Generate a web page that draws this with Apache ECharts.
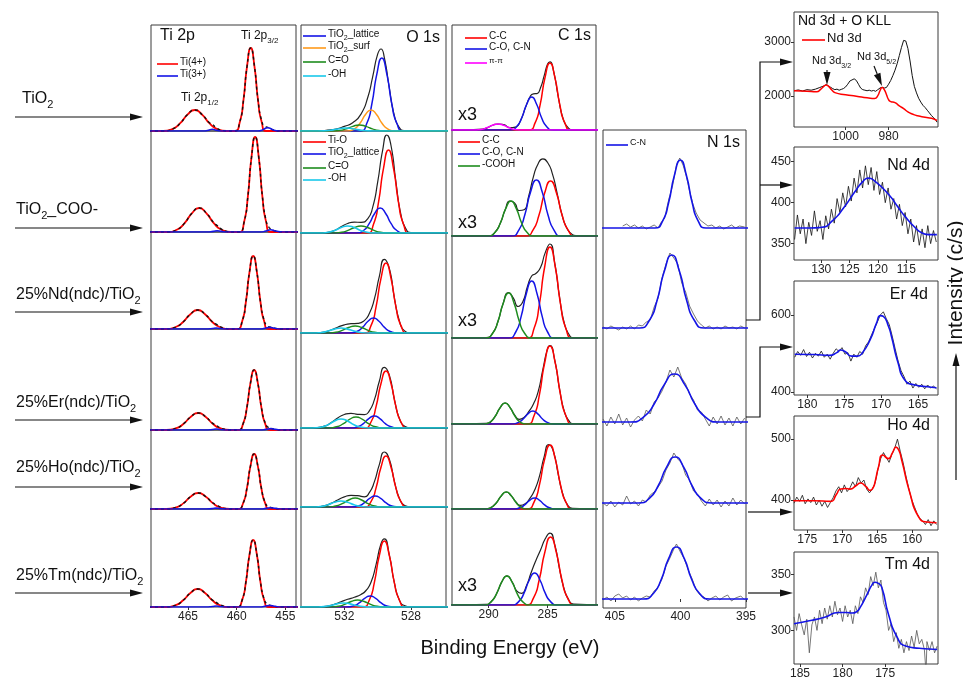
<!DOCTYPE html>
<html>
<head>
<meta charset="utf-8">
<script src="https://cdn.jsdelivr.net/npm/echarts@6/dist/echarts.min.js"></script>
<style>html,body{margin:0;background:#fff}#app{width:963px;height:680px}</style>
</head>
<body>
<div id="app"></div>
<script>
// ---- sample names and axis ticks ----
var samples = ['{m|TiO}{s|2}', '{m|TiO}{s|2}{m|_COO-}', '{m|25%Nd(ndc)/TiO}{s|2}', '{m|25%Er(ndc)/TiO}{s|2}', '{m|25%Ho(ndc)/TiO}{s|2}', '{m|25%Tm(ndc)/TiO}{s|2}'];
var tiTicks = [465, 460, 455];
var oTicks = [532, 528];
var cTicks = [290, 285];
var nTicks = [405, 400, 395];
var nd3dXTicks = [1000, 980], nd3dYTicks = [3000, 2000];
var nd4dXTicks = [130, 125, 120, 115], nd4dYTicks = [450, 400, 350];
var erXTicks = [180, 175, 170, 165], erYTicks = [600, 400];
var hoXTicks = [175, 170, 165, 160], hoYTicks = [500, 400];
var tmXTicks = [185, 180, 175], tmYTicks = [350, 300];

// ---- Ti 2p (binding energy, intensity a.u.) one list per sample ----
var tiTi4 = [
  [[469,0],[467.55,0],[466.55,2.2],[465.8,7.8],[465.05,16.4],[464.3,21],[463.55,16.4],[462.8,7.8],[462.05,2.2],[461.05,0],[460.18,0],[459.68,8.8],[459.3,30.7],[458.93,64.7],[458.55,83],[458.17,64.7],[457.8,30.7],[457.42,8.8],[456.92,0],[453.5,0]],
  [[469,0],[467.1,0],[466.1,2.5],[465.35,8.9],[464.6,18.7],[463.85,24],[463.1,18.7],[462.35,8.9],[461.6,2.5],[460.6,0],[459.73,0],[459.23,10.1],[458.85,35.2],[458.48,74.1],[458.1,95],[457.72,74.1],[457.35,35.2],[456.97,10.1],[456.47,0],[453.5,0]],
  [[469,0],[467.25,0],[466.25,2],[465.5,7],[464.75,14.8],[464,19],[463.25,14.8],[462.5,7],[461.75,2],[460.75,0],[459.93,0],[459.43,7.7],[459.05,27],[458.68,56.9],[458.3,73],[457.92,56.9],[457.55,27],[457.17,7.7],[456.67,0],[453.5,0]],
  [[469,0],[467.2,0],[466.2,1.8],[465.45,6.3],[464.7,13.3],[463.95,17],[463.2,13.3],[462.45,6.3],[461.7,1.8],[460.7,0],[459.83,0],[459.33,6.4],[458.95,22.2],[458.58,46.8],[458.2,60],[457.82,46.8],[457.45,22.2],[457.07,6.4],[456.57,0],[453.5,0]],
  [[469,0],[467.2,0],[466.2,1.7],[465.45,5.9],[464.7,12.5],[463.95,16],[463.2,12.5],[462.45,5.9],[461.7,1.7],[460.7,0],[459.83,0],[459.33,5.8],[458.95,20.4],[458.58,42.9],[458.2,55],[457.82,42.9],[457.45,20.4],[457.07,5.8],[456.57,0],[453.5,0]],
  [[469,0],[467.25,0],[466.25,1.9],[465.5,6.7],[464.75,14],[464,18],[463.25,14],[462.5,6.7],[461.75,1.9],[460.75,0],[459.93,0],[459.43,7.1],[459.05,24.8],[458.68,52.3],[458.3,67],[457.92,52.3],[457.55,24.8],[457.17,7.1],[456.67,0],[453.5,0]]
];
var tiTi3 = [
  [[469,0],[463.4,0],[462.9,0.8],[462.5,1.8],[462.1,0.8],[461.5,0],[457.8,0],[457.3,1.3],[456.8,3.3],[456.3,1.3],[455.7,0],[453.5,0]],
  [[469,0],[463,0],[462.4,0.6],[462,1.2],[461.6,0.6],[461,0],[457.5,0],[457,1],[456.5,2.3],[456,1],[455.3,0],[453.5,0]],
  [[469,0],[463.1,0],[462.5,0.5],[462.1,1],[461.7,0.5],[461.1,0],[457.6,0],[457.1,0.7],[456.6,1.6],[456.1,0.7],[455.4,0],[453.5,0]],
  [[469,0],[463.1,0],[462.5,0.5],[462.1,1],[461.7,0.5],[461.1,0],[457.5,0],[457,0.6],[456.5,1.4],[456,0.6],[455.3,0],[453.5,0]],
  [[469,0],[463.1,0],[462.5,0.4],[462.1,0.9],[461.7,0.4],[461.1,0],[457.5,0],[457,0.6],[456.5,1.3],[456,0.6],[455.3,0],[453.5,0]],
  [[469,0],[463.1,0],[462.5,0.5],[462.1,1],[461.7,0.5],[461.1,0],[457.6,0],[457.1,0.7],[456.6,1.5],[456.1,0.7],[455.4,0],[453.5,0]]
];
var tiFit = [
  [[469,0],[467.55,0],[466.55,2.2],[465.8,7.8],[465.05,16.4],[464.3,21],[463.55,16.4],[462.8,8.2],[462.5,6.8],[462.05,2.8],[461.5,0.7],[461.05,0],[460.18,0],[459.68,8.8],[459.3,30.7],[458.93,64.7],[458.55,83],[458.17,64.7],[457.8,30.7],[457.42,9.9],[457.1,4.6],[456.8,3.6],[456.3,1.3],[455.7,0],[453.5,0]],
  [[469,0],[467.1,0],[466.1,2.5],[465.35,8.9],[464.6,18.7],[463.85,24],[463.1,18.7],[462.35,9.3],[462,6.5],[461.6,3.1],[461,0.6],[460.6,0],[459.73,0],[459.23,10.1],[458.85,35.2],[458.48,74.1],[458.1,95],[457.72,74.1],[457.35,35.2],[456.97,11.3],[456.7,5],[456.5,3.3],[456,1],[455.3,0],[453.5,0]],
  [[469,0],[467.25,0],[466.25,2],[465.5,7],[464.75,14.8],[464,19],[463.25,14.8],[462.5,7.3],[462.1,4.8],[461.75,2.6],[461.2,0.7],[460.75,0],[459.93,0],[459.43,7.7],[459.05,27],[458.68,56.9],[458.3,73],[457.92,56.9],[457.55,27],[457.17,8.4],[456.9,3.5],[456.6,2],[456.1,0.7],[455.4,0],[453.5,0]],
  [[469,0],[467.2,0],[466.2,1.8],[465.45,6.3],[464.7,13.3],[463.95,17],[463.2,13.3],[462.45,6.6],[462.1,4.7],[461.7,2.3],[461.2,0.6],[460.7,0],[459.83,0],[459.33,6.4],[458.95,22.2],[458.58,46.8],[458.2,60],[457.82,46.8],[457.45,22.2],[457.07,7],[456.8,3],[456.5,1.8],[456,0.6],[455.3,0],[453.5,0]],
  [[469,0],[467.2,0],[466.2,1.7],[465.45,5.9],[464.7,12.5],[463.95,16],[463.2,12.5],[462.45,6.2],[462.1,4.4],[461.7,2.1],[461.2,0.5],[460.7,0],[459.83,0],[459.33,5.8],[458.95,20.4],[458.58,42.9],[458.2,55],[457.82,42.9],[457.45,20.4],[457.07,6.4],[456.8,2.8],[456.5,1.6],[456,0.6],[455.3,0],[453.5,0]],
  [[469,0],[467.25,0],[466.25,1.9],[465.5,6.7],[464.75,14],[464,18],[463.25,14],[462.5,7],[462.1,4.6],[461.75,2.5],[461.2,0.6],[460.75,0],[459.93,0],[459.43,7.1],[459.05,24.8],[458.68,52.3],[458.3,67],[457.92,52.3],[457.55,24.8],[457.17,7.8],[456.9,3.3],[456.6,1.9],[456.1,0.7],[455.4,0],[453.5,0]]
];

// ---- O 1s ----
var oMain = [
  [[534.8,0],[531.05,0],[530.65,7.7],[530.35,27],[530.05,56.9],[529.75,73],[529.45,56.9],[529.15,27],[528.85,7.7],[528.45,0],[525.7,0]],
  [[534.8,0],[530.65,0],[530.25,8.8],[529.95,30.7],[529.65,64.7],[529.35,83],[529.05,64.7],[528.75,30.7],[528.45,8.8],[528.05,0],[525.7,0]],
  [[534.8,0],[530.8,0],[530.4,7.4],[530.1,25.9],[529.8,54.6],[529.5,70],[529.2,54.6],[528.9,25.9],[528.6,7.4],[528.2,0],[525.7,0]],
  [[534.8,0],[530.8,0],[530.4,6],[530.1,21.1],[529.8,44.5],[529.5,57],[529.2,44.5],[528.9,21.1],[528.6,6],[528.2,0],[525.7,0]],
  [[534.8,0],[530.8,0],[530.4,5.4],[530.1,18.9],[529.8,39.8],[529.5,51],[529.2,39.8],[528.9,18.9],[528.6,5.4],[528.2,0],[525.7,0]],
  [[534.8,0],[530.9,0],[530.5,7],[530.2,24.4],[529.9,51.5],[529.6,66],[529.3,51.5],[529,24.4],[528.7,7],[528.3,0],[525.7,0]]
];
var oSecond = [
  [[534.8,0],[531.83,0],[531.4,2.1],[531.06,7.8],[530.73,16.4],[530.4,21],[530.07,16.4],[529.74,7.8],[529.4,2.1],[528.97,0],[525.7,0]],
  [[534.8,0],[531.28,0],[530.85,2.5],[530.51,9.3],[530.18,19.5],[529.85,25],[529.52,19.5],[529.19,9.3],[528.85,2.5],[528.42,0],[525.7,0]],
  [[534.8,0],[531.68,0],[531.25,1.5],[530.91,5.6],[530.58,11.7],[530.25,15],[529.92,11.7],[529.59,5.6],[529.25,1.5],[528.82,0],[525.7,0]],
  [[534.8,0],[531.63,0],[531.2,1.2],[530.86,4.4],[530.53,9.4],[530.2,12],[529.87,9.4],[529.54,4.4],[529.2,1.2],[528.77,0],[525.7,0]],
  [[534.8,0],[531.58,0],[531.15,1.1],[530.81,4.1],[530.48,8.6],[530.15,11],[529.82,8.6],[529.49,4.1],[529.15,1.1],[528.72,0],[525.7,0]],
  [[534.8,0],[531.88,0],[531.45,1.1],[531.11,4.1],[530.78,8.6],[530.45,11],[530.12,8.6],[529.79,4.1],[529.45,1.1],[529.02,0],[525.7,0]]
];
var oCO = [
  [[534.8,0],[532.8,0],[532.27,0.6],[531.88,2.2],[531.49,4.7],[531.1,6],[530.71,4.7],[530.32,2.2],[529.93,0.6],[529.4,0],[525.7,0]],
  [[534.8,0],[532.7,0],[532.17,0.7],[531.78,2.6],[531.39,5.5],[531,7],[530.61,5.5],[530.22,2.6],[529.83,0.7],[529.3,0],[525.7,0]],
  [[534.8,0],[533.05,0],[532.52,0.7],[532.13,2.6],[531.74,5.5],[531.35,7],[530.96,5.5],[530.57,2.6],[530.18,0.7],[529.65,0],[525.7,0]],
  [[534.8,0],[533,0],[532.47,1.2],[532.08,4.1],[531.69,8.6],[531.3,11],[530.91,8.6],[530.52,4.1],[530.13,1.2],[529.6,0],[525.7,0]],
  [[534.8,0],[533.05,0],[532.52,1],[532.13,3.3],[531.74,7],[531.35,9],[530.96,7],[530.57,3.3],[530.18,1],[529.65,0],[525.7,0]],
  [[534.8,0],[532.9,0],[532.37,0.7],[531.98,2.6],[531.59,5.5],[531.2,7],[530.81,5.5],[530.42,2.6],[530.03,0.7],[529.5,0],[525.7,0]]
];
var oOH = [
  [[534.8,0],[533.6,0],[533.07,0.3],[532.68,1.1],[532.29,2.3],[531.9,3],[531.51,2.3],[531.12,1.1],[530.73,0.3],[530.2,0],[525.7,0]],
  [[534.8,0],[533.5,0],[532.97,0.7],[532.58,2.6],[532.19,5.5],[531.8,7],[531.41,5.5],[531.02,2.6],[530.63,0.7],[530.1,0],[525.7,0]],
  [[534.8,0],[533.9,0],[533.37,0.5],[532.98,1.9],[532.59,3.9],[532.2,5],[531.81,3.9],[531.42,1.9],[531.03,0.5],[530.5,0],[525.7,0]],
  [[534.8,0],[533.9,0],[533.37,1],[532.98,3.3],[532.59,7],[532.2,9],[531.81,7],[531.42,3.3],[531.03,1],[530.5,0],[525.7,0]],
  [[534.8,0],[533.9,0],[533.37,0.6],[532.98,2.2],[532.59,4.7],[532.2,6],[531.81,4.7],[531.42,2.2],[531.03,0.6],[530.5,0],[525.7,0]],
  [[534.8,0],[533.75,0],[533.22,0.4],[532.83,1.5],[532.44,3.1],[532.05,4],[531.66,3.1],[531.27,1.5],[530.88,0.4],[530.35,0],[525.7,0]]
];
var oFit = [
  [[534.8,0],[533.5,0.2],[533,0.8],[532.5,1.9],[532,4.6],[531.5,8.2],[531,16.9],[530.6,33.3],[530.3,54.1],[530,76.8],[529.8,82],[529.6,73.4],[529.3,43],[529,15.5],[528.7,3.4],[528.4,0.4],[528,0],[525.7,0]],
  [[534.8,0],[533.5,0],[533,0.6],[532.5,3.3],[532.2,6.1],[531.8,9.5],[531.4,10.8],[531,10.7],[530.6,14.2],[530.3,25.6],[530,50.8],[529.7,82.9],[529.45,98],[529.2,87.5],[528.9,50.5],[528.6,18],[528.3,4],[528,0.5],[525.7,0]],
  [[534.8,0],[533.9,0],[533.2,1],[532.8,3],[532.4,5.8],[532,8.2],[531.6,9.3],[531.2,9.6],[530.8,12.4],[530.5,19.5],[530.2,33.8],[529.9,56.6],[529.6,73.7],[529.3,64.6],[529,35.3],[528.7,12.4],[528.4,2.4],[528,0.2],[525.7,0]],
  [[534.8,0],[533.9,0],[533.2,1.8],[532.8,5.3],[532.4,10],[532,13.5],[531.6,14.7],[531.2,13.7],[530.8,13.4],[530.5,17.2],[530.2,28.1],[529.9,46.8],[529.6,60.6],[529.3,52.9],[529,28.8],[528.7,9.7],[528.4,2],[528,0.2],[525.7,0]],
  [[534.8,0],[533.9,0],[533.2,1.2],[532.8,3.6],[532.4,7],[532,10.1],[531.6,11.6],[531.2,11.3],[530.8,10.2],[530.5,14.3],[530.2,25.1],[529.9,42.4],[529.6,55],[529.3,47.7],[529,25.9],[528.7,8.7],[528.4,1.8],[528,0.2],[525.7,0]],
  [[534.8,0],[533.75,0],[533,1],[532.6,2.7],[532.2,5.2],[531.8,7.7],[531.4,9.7],[531,12.6],[530.7,16.5],[530.4,24.7],[530.1,42.2],[529.8,63.2],[529.6,68.1],[529.3,51.9],[529,24.4],[528.7,7],[528.4,1.5],[528,0],[525.7,0]]
];

// ---- C 1s ----
var cCC = [
  [[293.3,0],[286.6,0],[286.06,7.1],[285.64,24.8],[285.22,52.3],[284.8,67],[284.38,52.3],[283.96,24.8],[283.54,7.1],[283,0],[280.7,0]],
  [[293.3,0],[286.85,0],[286.24,5.8],[285.74,20.4],[285.25,42.9],[284.75,55],[284.25,42.9],[283.76,20.4],[283.26,5.8],[282.65,0],[280.7,0]],
  [[293.3,0],[286.75,0],[286.15,9.6],[285.7,33.7],[285.25,71],[284.8,91],[284.35,71],[283.9,33.7],[283.45,9.6],[282.85,0],[280.7,0]],
  [[293.3,0],[286.75,0],[286.15,8.3],[285.7,28.9],[285.25,60.8],[284.8,78],[284.35,60.8],[283.9,28.9],[283.45,8.3],[282.85,0],[280.7,0]],
  [[293.3,0],[286.75,0],[286.15,6.8],[285.7,23.7],[285.25,49.9],[284.8,64],[284.35,49.9],[283.9,23.7],[283.45,6.8],[282.85,0],[280.7,0]],
  [[293.3,0],[286.83,0],[286.19,7.2],[285.71,25.2],[285.23,53],[284.75,68],[284.27,53],[283.79,25.2],[283.31,7.2],[282.67,0],[280.7,0]]
];
var cCO = [
  [[293.3,0],[288.15,0],[287.61,3.5],[287.19,12.2],[286.77,25.7],[286.35,33],[285.93,25.7],[285.51,12.2],[285.09,3.5],[284.55,0],[280.7,0]],
  [[293.3,0],[288.05,0],[287.44,5.9],[286.94,20.7],[286.45,43.7],[285.95,56],[285.45,43.7],[284.96,20.7],[284.46,5.9],[283.85,0],[280.7,0]],
  [[293.3,0],[288.3,0],[287.7,6],[287.25,21.1],[286.8,44.5],[286.35,57],[285.9,44.5],[285.45,21.1],[285,6],[284.4,0],[280.7,0]],
  [[293.3,0],[288.05,0],[287.51,1.4],[287.09,4.8],[286.67,10.1],[286.25,13],[285.83,10.1],[285.41,4.8],[284.99,1.4],[284.45,0],[280.7,0]],
  [[293.3,0],[287.9,0],[287.36,1.2],[286.94,4.1],[286.52,8.6],[286.1,11],[285.68,8.6],[285.26,4.1],[284.84,1.2],[284.3,0],[280.7,0]],
  [[293.3,0],[288.05,0],[287.45,3.4],[287,11.8],[286.55,25],[286.1,32],[285.65,25],[285.2,11.8],[284.75,3.4],[284.15,0],[280.7,0]]
];
var cThird = [
  [[293.3,0],[291.28,0],[290.64,0.6],[290.16,2.2],[289.68,4.7],[289.2,6],[288.72,4.7],[288.24,2.2],[287.76,0.6],[287.12,0],[280.7,0]],
  [[293.3,0],[290.05,0],[289.45,3.7],[289,13],[288.55,27.3],[288.1,35],[287.65,27.3],[287.2,13],[286.75,3.7],[286.15,0],[280.7,0]],
  [[293.3,0],[290.25,0],[289.65,4.8],[289.2,16.7],[288.75,35.1],[288.3,45],[287.85,35.1],[287.4,16.7],[286.95,4.8],[286.35,0],[280.7,0]],
  [[293.3,0],[290.4,0],[289.86,2.2],[289.44,7.8],[289.02,16.4],[288.6,21],[288.18,16.4],[287.76,7.8],[287.34,2.2],[286.8,0],[280.7,0]],
  [[293.3,0],[290.3,0],[289.76,1.8],[289.34,6.3],[288.92,13.3],[288.5,17],[288.08,13.3],[287.66,6.3],[287.24,1.8],[286.7,0],[280.7,0]],
  [[293.3,0],[290.4,0],[289.8,3.1],[289.35,10.7],[288.9,22.6],[288.45,29],[288,22.6],[287.55,10.7],[287.1,3.1],[286.5,0],[280.7,0]]
];
var cFit = [
  [[293.3,0],[290.5,1],[289.6,5],[289.2,6],[288.7,5.3],[288.2,2.3],[287.7,3],[287.3,9.3],[286.9,21.6],[286.5,33],[286.2,36.2],[285.9,36.4],[285.6,42.3],[285.3,53.8],[285,65.9],[284.8,68.1],[284.5,59.2],[284.1,33.5],[283.7,11.8],[283.3,2.8],[282.8,0.1],[280.7,0]],
  [[293.3,0],[290,0.4],[289.5,3.2],[289,13],[288.6,25.9],[288.2,35],[287.8,33],[287.4,25.5],[287,26.2],[286.6,40.2],[286.2,59.4],[285.8,72.3],[285.4,77.1],[285,73.5],[284.6,62.4],[284.2,43.2],[283.8,22],[283.4,8.5],[283,2.4],[282.6,0.4],[280.7,0]],
  [[293.3,0],[290.2,0.5],[289.7,4.1],[289.2,16.7],[288.8,33.4],[288.3,45.5],[287.9,39.9],[287.5,31.5],[287.1,36.2],[286.7,51.8],[286.35,62],[286,64.5],[285.6,70.4],[285.2,85.4],[284.8,94],[284.4,75.1],[284,41.9],[283.6,15.5],[283.2,3.8],[282.8,0.4],[280.7,0]],
  [[293.3,0],[290.2,0.6],[289.6,5.2],[289,16.6],[288.6,21],[288.2,16.7],[287.8,9.1],[287.4,4.7],[287,6.6],[286.6,12.3],[286.2,20],[285.8,32.4],[285.4,54.7],[285,75.4],[284.8,78.3],[284.4,64],[284,35.9],[283.6,13.3],[283.2,3.3],[282.8,0.3],[280.7,0]],
  [[293.3,0],[290.1,0.5],[289.5,4.2],[288.9,13.4],[288.5,17],[288.1,13.4],[287.7,7.3],[287.3,3.6],[286.9,5.2],[286.5,10.6],[286.1,18.9],[285.7,32.3],[285.3,51.8],[284.9,64.5],[284.5,57.3],[284.1,34.6],[283.7,14.5],[283.3,4],[282.9,0.6],[280.7,0]],
  [[293.3,0],[290.2,0.6],[289.7,4.3],[289.2,14.5],[288.8,25],[288.45,29.1],[288,23],[287.6,13.9],[287.2,11.7],[286.8,19],[286.4,32.2],[286,44.3],[285.6,55],[285.2,66.2],[284.8,71.9],[284.4,60.5],[284,36.7],[283.6,16.1],[283.2,5],[282.8,0.8],[280.7,0]]
];

// ---- N 1s (samples 2..6) ----
var nFit = [
  [[406,0],[401.95,0],[401.35,7.2],[400.9,25.2],[400.45,53],[400,68],[399.55,53],[399.1,25.2],[398.65,7.2],[398.05,0],[394.8,0]],
  [[406,0],[403.12,0],[402.36,7.7],[401.79,27],[401.22,56.9],[400.65,73],[400.08,56.9],[399.51,27],[398.94,7.7],[398.18,0],[394.8,0]],
  [[406,0],[403.83,0],[402.79,5.1],[402.01,17.8],[401.23,37.4],[400.45,48],[399.67,37.4],[398.89,17.8],[398.11,5.1],[397.07,0],[394.8,0]],
  [[406,0],[403.2,0],[402.35,4.9],[401.7,17],[401.05,35.9],[400.4,46],[399.75,35.9],[399.1,17],[398.45,4.9],[397.6,0],[394.8,0]],
  [[406,0],[402.84,0],[402.06,5.5],[401.47,19.2],[400.89,40.6],[400.3,52],[399.71,40.6],[399.13,19.2],[398.54,5.5],[397.76,0],[394.8,0]]
];
var nData = [
  [[404.4,2],[404.1,4],[403.8,1],[403.5,3],[403.2,0],[402.9,2],[402.6,-1],[402.3,1],[402,3],[401.7,0],[401.5,5],[401.2,10],[400.9,28],[400.6,42],[400.3,63],[400.05,70],[399.8,63],[399.55,52],[399.3,37],[399.05,24],[398.8,15],[398.5,8],[398.2,5],[397.9,2],[397.6,3],[397.3,0],[397,2],[396.7,-1],[396.4,1],[396.1,3],[395.8,0],[395.5,2],[395.1,1]],
  [[405.9,1],[405.6,-1],[405.3,2],[405,0],[404.7,-2],[404.4,1],[404.1,-1],[403.8,2],[403.5,-1],[403.2,3],[402.9,2],[402.6,6],[402.3,8],[402,21],[401.7,30],[401.4,50],[401.1,64],[400.8,75],[400.5,70],[400.2,64],[399.9,45],[399.6,36],[399.3,22],[399,14],[398.7,7],[398.4,3],[398.1,0],[397.8,2],[397.5,-1],[397.2,1],[396.9,-1],[396.6,2],[396.3,0],[396,1],[395.7,-1],[395.4,2],[395.1,0]],
  [[405.9,3],[405.6,-4],[405.3,5],[405,-2],[404.7,8],[404.4,-3],[404.1,4],[403.8,-5],[403.5,2],[403.2,6],[402.9,1],[402.6,12],[402.3,8],[402,20],[401.7,24],[401.4,31],[401.1,40],[400.8,52],[400.5,45],[400.2,55],[399.9,44],[399.6,38],[399.3,28],[399,22],[398.7,12],[398.4,10],[398.1,3],[397.8,-4],[397.5,5],[397.2,-2],[396.9,6],[396.6,-3],[396.3,4],[396,-4],[395.7,5],[395.4,-2],[395.1,4]],
  [[405.9,0],[405.6,-3],[405.3,2],[405,-4],[404.7,1],[404.4,-2],[404.1,7],[403.8,-1],[403.5,2],[403.2,-3],[402.9,3],[402.6,1],[402.3,8],[402,11],[401.7,16],[401.4,22],[401.1,33],[400.8,40],[400.5,50],[400.2,44],[399.9,40],[399.6,28],[399.3,23],[399,12],[398.7,9],[398.4,2],[398.1,-3],[397.8,4],[397.5,-2],[397.2,3],[396.9,-4],[396.6,2],[396.3,-3],[396,5],[395.7,-2],[395.4,3],[395.1,-1]],
  [[405.9,-1],[405.6,2],[405.3,-2],[405,3],[404.7,5],[404.4,1],[404.1,3],[403.8,-1],[403.5,2],[403.2,-2],[402.9,1],[402.6,3],[402.3,2],[402,8],[401.7,12],[401.4,20],[401.1,33],[400.8,41],[400.5,50],[400.3,55],[400,47],[399.7,40],[399.4,29],[399.1,20],[398.8,9],[398.5,4],[398.2,2],[397.9,-2],[397.6,1],[397.3,3],[397,-1],[396.7,2],[396.4,4],[396.1,-2],[395.8,1],[395.4,3],[395.1,-1]]
];

// ---- rare-earth panels (binding energy, c/s) ----
var nd3dData = [[1024,2100],[1022,2115],[1020,2095],[1018,2120],[1016,2110],[1014,2130],[1012,2160],[1010,2190],[1009,2215],[1008,2185],[1007,2165],[1006,2140],[1005,2120],[1004,2130],[1003,2110],[1002,2125],[1001,2140],[1000,2170],[999,2220],[998,2280],[997,2300],[996,2320],[995,2290],[994,2220],[993,2150],[992,2120],[991,2110],[990,2100],[989,2110],[988,2095],[987,2105],[986,2090],[985,2120],[984,2150],[983,2165],[982,2150],[981,2160],[980,2220],[979,2290],[978,2380],[977,2480],[976,2600],[975,2750],[974,2900],[973,3030],[972.5,3060],[972,3020],[971,2880],[970,2650],[969,2380],[968,2180],[967,2060],[966,1960],[965,1890],[964,1830],[963,1790],[962,1740],[961,1690],[960,1640],[959,1600],[958,1560],[957.5,1520]];
var nd3dFit = [[1024,2100],[1018,2090],[1013.5,2082],[1011.5,2130],[1010,2185],[1009,2205],[1008,2185],[1006.5,2120],[1005,2065],[1000,2025],[995,2000],[990,1970],[986.5,1955],[985,2010],[984,2100],[983,2160],[982,2120],[981,2030],[980,1935],[979,1900],[977,1880],[975,1820],[973,1770],[971,1710],[969,1670],[966.5,1636],[963,1610],[960,1590],[957.5,1550]];
var nd4dData = [[134.7,355],[134.2,385],[133.7,362],[133.2,380],[132.7,350],[132.2,376],[131.7,360],[131.2,390],[130.7,365],[130.2,378],[129.7,355],[129.2,384],[128.7,368],[128.2,392],[127.7,375],[127.2,405],[126.7,388],[126.2,412],[125.7,395],[125.2,420],[124.7,402],[124.2,430],[123.7,412],[123.2,440],[122.7,418],[122.2,445],[121.7,422],[121.2,443],[120.7,415],[120.2,438],[119.7,410],[119.2,425],[118.7,400],[118.2,418],[117.7,392],[117.2,405],[116.7,380],[116.2,398],[115.7,372],[115.2,388],[114.7,362],[114.2,380],[113.7,352],[113.2,372],[112.7,348],[112.2,368],[111.7,345],[111.2,372],[110.7,350],[110.2,366],[109.7,352]];
var nd4dFit = [[134.7,369],[132,369],[129.9,370],[128,378],[126,394],[124,414],[122.5,427],[121.7,430],[120.5,426],[118.1,410],[116.5,395],[115.2,383],[113.5,370],[112.2,363],[111,361],[109.6,361]];
var er4dData = [[181.7,490],[181.3,505],[180.9,495],[180.5,510],[180.1,492],[179.7,503],[179.3,488],[178.9,500],[178.5,493],[178.1,506],[177.7,490],[177.3,498],[176.9,485],[176.5,500],[176.1,512],[175.7,505],[175.3,515],[174.9,498],[174.5,502],[174.1,480],[173.7,498],[173.3,490],[172.9,505],[172.5,498],[172.1,520],[171.7,530],[171.3,548],[170.9,565],[170.5,582],[170.1,600],[169.7,608],[169.3,590],[168.9,575],[168.5,545],[168.1,512],[167.7,480],[167.3,455],[166.9,440],[166.5,420],[166.1,428],[165.7,410],[165.3,422],[164.9,412],[164.5,420],[164.1,408],[163.7,418],[163.3,410],[162.9,415],[162.5,408]];
var er4dFit = [[181.7,498],[179,497],[177,495],[176,502],[175.5,509],[174.9,505],[174,493],[173.2,493],[172.6,500],[171.5,535],[170.6,580],[170.1,598],[169.7,596],[169,570],[168.6,544],[167.7,475],[166.8,431],[165.4,418],[164,414],[162.5,411]];
var ho4dData = [[176.9,395],[176.5,405],[176.1,398],[175.7,408],[175.3,394],[174.9,402],[174.5,396],[174.1,405],[173.7,392],[173.3,400],[172.9,390],[172.5,398],[172.1,388],[171.7,396],[171.3,404],[170.9,415],[170.5,422],[170.1,412],[169.7,425],[169.3,414],[168.9,420],[168.5,430],[168.1,422],[167.7,437],[167.3,428],[166.9,433],[166.5,418],[166.1,412],[165.7,418],[165.3,428],[164.9,450],[164.5,468],[164.1,478],[163.7,470],[163.3,462],[162.9,475],[162.5,485],[162.1,500],[161.7,480],[161.3,462],[160.9,440],[160.5,420],[160.1,402],[159.7,390],[159.3,378],[158.9,370],[158.5,366],[158.1,360],[157.7,368],[157.3,358],[156.9,366],[156.5,360]];
var ho4dFit = [[177,399],[174,399],[171.7,398],[170.8,410],[170.3,418],[169.5,419],[168.9,418],[168,424],[167.4,428],[166.6,422],[166,416],[165.6,420],[165.3,430],[164.8,455],[164.2,474],[163.4,468],[162.8,478],[162.3,487],[161.9,482],[161.5,466],[160.3,411],[159.1,373],[157.9,364],[156.5,363]];
var tm4dData = [[185.7,312],[185.4,300],[185.1,315],[184.8,305],[184.5,296],[184.2,310],[183.9,280],[183.6,305],[183.3,312],[183,300],[182.7,318],[182.4,306],[182.1,320],[181.8,310],[181.5,322],[181.2,312],[180.9,326],[180.6,314],[180.3,320],[180,308],[179.7,322],[179.4,312],[179.1,318],[178.8,306],[178.5,322],[178.2,315],[177.9,330],[177.6,325],[177.3,338],[177,332],[176.7,348],[176.4,340],[176.1,352],[175.8,338],[175.5,345],[175.2,325],[174.9,318],[174.6,300],[174.3,306],[174,290],[173.7,298],[173.4,284],[173.1,292],[172.8,280],[172.5,290],[172.2,282],[171.9,295],[171.6,285],[171.3,300],[171,288],[170.7,292],[170.4,283],[170.2,262],[170.1,290],[169.8,282],[169.5,290],[169.2,280],[168.9,286]];
var tm4dFit = [[185.7,306],[183.6,309],[182,312],[180.5,316],[179.5,316],[178.9,315.5],[178.3,317],[177.9,321],[177.4,328],[177,334],[176.6,340],[176.2,343],[175.8,342],[175.4,338.5],[174.6,314],[173.6,294],[172.6,286],[171,284],[168.9,283]];

// ---- build ----
var FONT = 'Arial, "Liberation Sans", sans-serif';
var RED = '#ff0000', BLUE = '#1414e6', GREEN = '#1e8c1e', ORANGE = '#ff9a1a', CYAN = '#19c8ea', MAGENTA = '#ff00ff';
var grids = [], xAxes = [], yAxes = [], series = [], graphics = [];
function plain(v) { return String(v); }

function panel(box, xr, yr, xLab, yLab, border) {
  var i = grids.length;
  grids.push({ left: box[0], top: box[1], width: box[2], height: box[3], show: border !== false,
    borderColor: '#3a3a3a', borderWidth: 1, backgroundColor: 'transparent' });
  xAxes.push({ gridIndex: i, type: 'value', inverse: true, min: xr[0], max: xr[1],
    axisLine: { show: false }, splitLine: { show: false },
    axisTick: { show: !!xLab, length: 3, customValues: xLab || [], lineStyle: { color: '#333' } },
    axisLabel: { show: !!xLab, customValues: xLab || [], formatter: plain, fontSize: 12, color: '#222', margin: 4, fontFamily: FONT } });
  yAxes.push({ gridIndex: i, type: 'value', min: yr[0], max: yr[1],
    axisLine: { show: false }, splitLine: { show: false },
    axisTick: { show: !!yLab, length: 3, customValues: yLab || [], lineStyle: { color: '#333' } },
    axisLabel: { show: !!yLab, customValues: yLab || [], formatter: plain, fontSize: 12, color: '#222', margin: 3, fontFamily: FONT } });
  return i;
}
function curve(i, data, color, width, dash, smooth) {
  series.push({ type: 'line', xAxisIndex: i, yAxisIndex: i, data: data, symbol: 'none',
    smooth: smooth === false ? false : 0.6, silent: true,
    lineStyle: { color: color, width: width, type: dash || 'solid' } });
}
function rich(size) {
  return {
    m: { fontSize: size, fontFamily: FONT, lineHeight: size + 2, padding: [0, 0, 3, 0], verticalAlign: 'bottom' },
    s: { fontSize: Math.round(size * 0.68), fontFamily: FONT, lineHeight: Math.round(size * 0.68), verticalAlign: 'bottom' }
  };
}
function label(x, y, text, size, align) {
  graphics.push({ type: 'text', x: x, y: y, silent: true, z: 50,
    style: { text: text, font: size + 'px ' + FONT, fill: '#111', align: align || 'left', verticalAlign: 'middle', rich: rich(size) } });
}
function legendItem(x1, x2, y, color, text, size) {
  graphics.push({ type: 'line', silent: true, z: 50, shape: { x1: x1, y1: y, x2: x2, y2: y }, style: { stroke: color, lineWidth: 1.6 } });
  label(x2 + 2, y, text, size || 10);
}
function arrow(pts) {
  var n = pts.length, a = pts[n - 2], b = pts[n - 1];
  var dx = b[0] - a[0], dy = b[1] - a[1], L = Math.sqrt(dx * dx + dy * dy), ux = dx / L, uy = dy / L;
  var hl = 13, hw = 3.5, base = [b[0] - ux * hl, b[1] - uy * hl];
  graphics.push({ type: 'polyline', silent: true, z: 50, shape: { points: pts.slice(0, n - 1).concat([base]) }, style: { stroke: '#111', lineWidth: 1.2, fill: null } });
  graphics.push({ type: 'polygon', silent: true, z: 50, shape: { points: [b, [base[0] - uy * hw, base[1] + ux * hw], [base[0] + uy * hw, base[1] - ux * hw]] }, style: { fill: '#111' } });
}

// Ti 2p column
var tiRows = [25, 131, 232, 329, 430, 509, 607];
for (var r = 0; r < 6; r++) {
  var h = tiRows[r + 1] - tiRows[r];
  var g = panel([151, tiRows[r], 145, h], [453.9, 468.8], [0, h], r === 5 ? tiTicks : null, null);
  curve(g, tiTi4[r], RED, 1.8);
  curve(g, tiFit[r], '#111', 1.4, [3, 3]);
  curve(g, tiTi3[r], BLUE, 1.6);
}
// O 1s column
var oRows = [25, 131, 233, 333, 428, 507, 607];
for (r = 0; r < 6; r++) {
  h = oRows[r + 1] - oRows[r];
  g = panel([301, oRows[r], 145, h], [525.9, 534.6], [0, h], r === 5 ? oTicks : null, null);
  curve(g, oFit[r], '#222', 1.2);
  curve(g, oMain[r], r === 0 ? BLUE : RED, 1.5);
  curve(g, oSecond[r], r === 0 ? ORANGE : BLUE, 1.5);
  curve(g, oCO[r], GREEN, 1.4);
  curve(g, oOH[r], CYAN, 1.6);
}
// C 1s column
var cRows = [25, 130, 236, 338, 424, 509, 605];
for (r = 0; r < 6; r++) {
  h = cRows[r + 1] - cRows[r];
  g = panel([452, cRows[r], 144, h], [280.9, 293.1], [0, h], r === 5 ? cTicks : null, null);
  curve(g, cFit[r], '#222', 1.2);
  curve(g, cCC[r], RED, 1.5);
  curve(g, cCO[r], BLUE, 1.5);
  curve(g, cThird[r], r === 0 ? MAGENTA : GREEN, 1.5);
}
// N 1s column (one frame, five stacked traces)
panel([603, 130, 143, 478], [395, 405.9], [0, 1], null, null);
var nBase = [228, 328, 422, 503, 599];
for (r = 0; r < 5; r++) {
  g = panel([603, nBase[r] - 85, 143, 93], [395, 405.9], [-8, 85], r === 4 ? nTicks : null, null, false);
  curve(g, nData[r], '#555', 0.8, null, false);
  curve(g, nFit[r], BLUE, 1.6);
}
// rare-earth panels
g = panel([794, 12, 144, 115], [957, 1024], [1430, 3555], nd3dXTicks, nd3dYTicks);
curve(g, nd3dData, '#111', 1, null, false);
curve(g, nd3dFit, RED, 1.5);
g = panel([794, 147, 144, 113], [109.4, 134.8], [330, 468], nd4dXTicks, nd4dYTicks);
curve(g, nd4dData, '#111', 0.8, null, false);
curve(g, nd4dFit, BLUE, 1.6);
g = panel([794, 281, 144, 114], [162.3, 181.8], [392, 688], erXTicks, erYTicks);
curve(g, er4dData, '#111', 0.8, null, false);
curve(g, er4dFit, BLUE, 1.6);
g = panel([794, 416, 144, 114], [156.3, 176.9], [351, 538], hoXTicks, hoYTicks);
curve(g, ho4dData, '#111', 0.8, null, false);
curve(g, ho4dFit, RED, 1.6);
g = panel([794, 552, 144, 116], [168.8, 185.7], [270, 370], tmXTicks, tmYTicks);
curve(g, tm4dData, '#555', 0.8, null, false);
curve(g, tm4dFit, BLUE, 1.6);

// sample labels and arrows
var labelY = [101, 212, 297, 405, 470, 578], arrowY = [117, 228, 312, 420, 487, 593];
for (r = 0; r < 6; r++) {
  label(r === 0 ? 22 : 16, labelY[r], samples[r], 16);
  arrow([[15, arrowY[r]], [143, arrowY[r]]]);
}
// panel titles
label(160, 38, '{m|Ti 2p}', 16);
label(241, 38, '{m|Ti 2p}{s|3/2}', 12);
label(181, 100, '{m|Ti 2p}{s|1/2}', 12);
label(440, 40, '{m|O 1s}', 16, 'right');
label(591, 38, '{m|C 1s}', 16, 'right');
label(740, 145, '{m|N 1s}', 16, 'right');
label(798, 23, '{m|Nd 3d + O KLL}', 14);
label(930, 168, '{m|Nd 4d}', 16, 'right');
label(928, 297, '{m|Er 4d}', 16, 'right');
label(930, 428, '{m|Ho 4d}', 16, 'right');
label(930, 567, '{m|Tm 4d}', 16, 'right');
label(812, 63, '{m|Nd 3d}{s|3/2}', 11);
label(857, 59, '{m|Nd 3d}{s|5/2}', 11);
arrow([[827, 70], [827, 85]]);
arrow([[874, 66], [882, 86]]);
// x3 scale notes in C 1s
[117, 225, 323, 588].forEach(function (y) { label(458, y, '{m|x3}', 18); });
// legends
legendItem(157, 178, 64, RED, '{m|Ti(4+)}', 10);
legendItem(157, 178, 76, BLUE, '{m|Ti(3+)}', 10);
legendItem(303, 326, 36, BLUE, '{m|TiO}{s|2}{m|_lattice}', 10);
legendItem(303, 326, 48, ORANGE, '{m|TiO}{s|2}{m|_surf}', 10);
legendItem(303, 326, 62, GREEN, '{m|C=O}', 10);
legendItem(303, 326, 76, CYAN, '{m|-OH}', 10);
legendItem(303, 326, 142, RED, '{m|Ti-O}', 10);
legendItem(303, 326, 154, BLUE, '{m|TiO}{s|2}{m|_lattice}', 10);
legendItem(303, 326, 168, GREEN, '{m|C=O}', 10);
legendItem(303, 326, 180, CYAN, '{m|-OH}', 10);
legendItem(465, 487, 38, RED, '{m|C-C}', 10);
legendItem(465, 487, 49, BLUE, '{m|C-O, C-N}', 10);
legendItem(465, 487, 63, MAGENTA, '{m|\u03c0-\u03c0}', 8);
legendItem(458, 480, 142, RED, '{m|C-C}', 10);
legendItem(458, 480, 154, BLUE, '{m|C-O, C-N}', 10);
legendItem(458, 480, 166, GREEN, '{m|-COOH}', 10);
legendItem(606, 628, 145, BLUE, '{m|C-N}', 9);
legendItem(802, 825, 40, RED, '{m|Nd 3d}', 13);
// connectors to the rare-earth panels
arrow([[746, 320], [760, 320], [760, 62], [793, 62]]);
arrow([[760, 185], [793, 185]]);
arrow([[746, 417], [760, 417], [760, 347], [793, 347]]);
arrow([[748, 512], [793, 512]]);
arrow([[748, 593], [793, 593]]);
// axis titles
label(510, 650, '{m|Binding Energy (eV)}', 20, 'center');
graphics.push({ type: 'text', x: 956, y: 283, rotation: Math.PI / 2, silent: true, z: 50,
  style: { text: 'Intensity (c/s)', font: '21px ' + FONT, fill: '#111', align: 'center', verticalAlign: 'middle' } });
arrow([[956, 480], [956, 353]]);

var chart = echarts.init(document.getElementById('app'));
chart.setOption({
  animation: false,
  backgroundColor: '#ffffff',
  grid: grids, xAxis: xAxes, yAxis: yAxes, series: series,
  graphic: { elements: graphics }
});
</script>
</body>
</html>
